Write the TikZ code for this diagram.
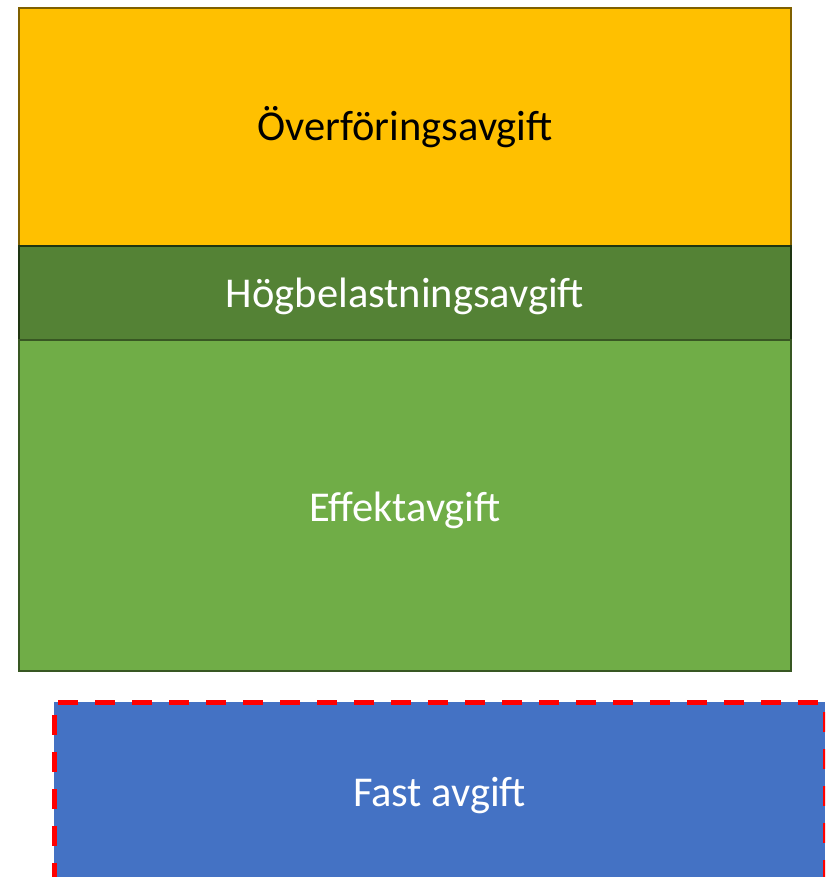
\documentclass[tikz,border=0pt]{standalone}
\usepackage{fontspec}
\setmainfont{Carlito}
\definecolor{orangefill}{HTML}{FFC000}
\definecolor{orangeline}{HTML}{7F6000}
\definecolor{darkgreenfill}{HTML}{548235}
\definecolor{darkgreenline}{HTML}{1E3512}
\definecolor{greenfill}{HTML}{70AD47}
\definecolor{greenline}{HTML}{385723}
\definecolor{bluefill}{HTML}{4472C4}
\tikzset{
  layer/.style={draw, line width=2pt, inner sep=0pt, minimum width=772pt,
    font=\fontsize{42.5}{48}\selectfont, text=white},
}
% shift the ink of a label down while keeping its box dimensions
\newcommand{\lowered}[2]{\raisebox{-#1}[\height][\depth]{#2}}
\begin{document}
\begin{tikzpicture}[x=1pt,y=-1pt]
  \useasboundingbox (0,0) rectangle (825,877);
  \clip (0,0) rectangle (825,877);
  % stacked tariff layers
  \node[layer, fill=orangefill, draw=orangeline, text=black, minimum height=238pt] (over) at (405,127) {Överföringsavgift};
  \node[layer, fill=darkgreenfill, draw=darkgreenline, minimum height=94pt] (hog) at (405,293) {\lowered{3.5pt}{Högbelastningsavgift}};
  \node[layer, fill=greenfill, draw=greenline, minimum height=331pt] (eff) at (405,505.5) {\lowered{4.5pt}{Effektavgift}};
  % fixed fee, outlined with a dashed red border
  \node[layer, fill=bluefill, draw=red, line width=5pt, dash pattern=on 20pt off 17pt,
        minimum width=771pt, minimum height=184pt] (fast) at (439.5,794) {\lowered{2pt}{Fast avgift}};
\end{tikzpicture}
\end{document}
